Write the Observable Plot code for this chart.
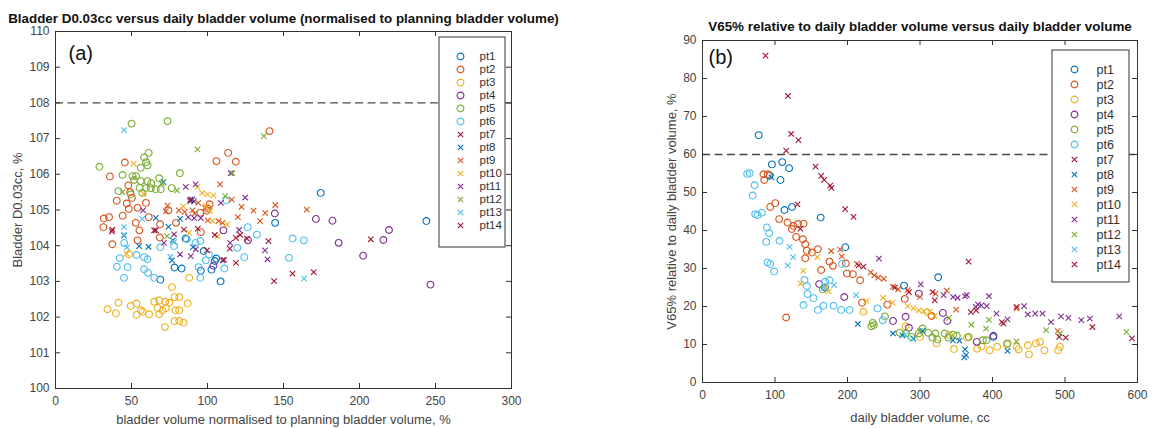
<!DOCTYPE html>
<html><head><meta charset="utf-8">
<script src="https://cdn.jsdelivr.net/npm/d3@7"></script>
<script src="https://cdn.jsdelivr.net/npm/@observablehq/plot@0.6"></script>
<style>
body{margin:0;background:#fff;}
#wrap{position:relative;width:1154px;height:428px;overflow:hidden;}
.abs{position:absolute;}
.abs svg{overflow:visible;}
</style></head><body><div id="wrap"></div>
<script>
const patients = ["pt1","pt2","pt3","pt4","pt5","pt6","pt7","pt8","pt9","pt10","pt11","pt12","pt13","pt14"];
const colors = ["#0072BD","#D95319","#EDB120","#7E2F8E","#77AC30","#4DBEEE","#A2142F","#0072BD","#D95319","#EDB120","#7E2F8E","#77AC30","#4DBEEE","#A2142F"];
const symbols = ["circle","circle","circle","circle","circle","circle","times","times","times","times","times","times","times","times"];

// Panel (a): normalised bladder volume (%) vs bladder D0.03cc (%)
const aPt1 = [[174.5,105.48],[244,104.69],[144.5,104.64],[85.6,104.2],[97.5,103.85],[102.6,103.33],[108.6,103.0],[105.7,103.64],[104.8,103.57],[78.3,103.39],[83,103.36],[69,103.05],[95.6,103.3]];
const aPt2 = [[35.8,105.94],[45.6,106.33],[31.8,104.76],[31.5,104.52],[35.2,104.8],[37.4,104.04],[40.3,105.26],[44.2,104.84],[47.9,105.69],[49.1,105.5],[50.3,105.34],[46.9,105.18],[48.2,105.03],[54,105.06],[52.8,104.64],[54,104.15],[55.2,104.43],[59.5,105.2],[61.3,104.8],[68.8,104.6],[68.6,104.23],[74.3,104.99],[79.3,104.64],[95.3,104.92],[100.2,105.04],[101.4,105.16],[99.5,104.98],[105.9,106.37],[113.6,106.6],[118.6,106.35],[140.8,107.21],[95.6,104.38]];
const aPt3 = [[34.2,102.22],[39.7,102.11],[41.4,102.4],[49.5,102.31],[53.3,102.38],[53.3,102.06],[56.1,102.19],[61.6,102.08],[64.9,102.43],[68.2,102.47],[67.1,102.26],[68.2,102.08],[70.4,102.19],[72.6,102.25],[72.2,102.43],[74.9,102.4],[76.6,102.84],[78.3,102.56],[78.9,102.19],[81.4,102.56],[81.4,102.19],[86.9,102.38],[81.4,101.89],[78.3,101.89],[84.3,101.84],[72,101.72],[88,103.1],[48.4,103.76],[57.5,102.15]];
const aPt4 = [[144.3,104.9],[171.3,104.75],[182.2,104.7],[186.3,104.08],[202.4,103.72],[215.7,104.16],[219.4,104.44],[246.7,102.91],[126.6,104.15],[110.5,104.43],[103.9,103.44]];
const aPt5 = [[28.9,106.21],[50,107.42],[73.7,107.49],[61.3,106.6],[58.3,106.47],[59.6,106.34],[56.1,106.18],[60.5,106.25],[44.1,105.98],[50.7,105.95],[51.7,105.84],[56.1,105.81],[60.5,105.81],[55.3,105.62],[59.4,105.61],[62.7,105.61],[68.2,105.89],[66,105.58],[69.3,105.58],[76.5,105.61],[81.8,106.03],[41.4,105.53],[49.5,105.44],[57.2,105.48],[53,105.95],[63,105.75]];
const aPt6 = [[45.2,104.08],[42.3,103.65],[40.4,103.41],[47.4,103.4],[45.1,103.1],[53.3,103.74],[58.3,103.68],[60.5,103.62],[58.3,103.34],[60.9,103.24],[64.9,103.1],[69,103.96],[78,103.99],[86.4,104.18],[92.1,104.08],[95.3,104.13],[94.1,103.4],[95.3,103.1],[98.9,103.59],[111.1,103.36],[119.6,103.94],[126.4,104.52],[132.5,104.31],[124.2,103.68],[153.6,103.66],[156,104.2],[163.4,104.15],[112.3,105.27],[101,103.75]];
const aPt7 = [[37.4,104.45],[66.1,104.43],[118.7,104.22],[118.7,103.52],[143.8,103.01],[155.9,103.22],[169.9,103.26],[207.4,104.18],[140.1,104.13],[114.7,103.92]];
const aPt8 = [[45.1,104.28],[55,103.99],[61.2,103.97],[74.3,104.53],[77.1,104.15],[88.7,105.29],[76.6,103.59],[71,105.78],[90.4,103.96],[66,104.78],[91,105.25],[82,104.75]];
const aPt9 = [[81.2,104.99],[91.6,104.9],[93.9,105.2],[98.3,105.06],[108.3,105.72],[109.9,104.64],[122.4,105.09],[130.3,104.98],[138,104.92],[144.6,105.14],[134.6,104.69],[165.3,105.01],[116,105.29],[100.2,104.71],[73.7,105.12],[72.6,104.97],[90.1,104.99],[107.2,104.69],[85,104.95],[120,104.8]];
const aPt10 = [[100,105.44],[103.9,105.41],[93.4,105.65],[101.7,104.97],[87.9,104.36],[103.3,104.69],[51.5,106.3],[96.5,105.48],[106.5,104.26],[46.7,103.78],[99,105.1],[58,105.45],[84,105.1],[113,104.6]];
const aPt11 = [[85.7,105.65],[92.2,105.72],[88.6,105.25],[87.3,104.8],[91.2,104.77],[95.6,104.77],[108.8,105.2],[115.3,106.03],[124.8,105.35],[120.8,104.44],[89,103.71],[82,103.76],[92.3,103.9],[139.5,103.62],[71.4,104.08],[78,104.32],[114.9,104.08],[57.6,104.99],[109.9,103.59],[137.8,103.87],[90,105.3]];
const aPt12 = [[93.4,106.7],[137.1,107.07],[116.3,106.03],[111.6,105.39],[73.4,104.27],[69.9,105.75],[44,105.5],[80,105.55]];
const aPt13 = [[45.1,107.24],[45,104.52],[75.6,103.69],[163.5,103.08],[45,104.3],[57,104.75],[78,104.1],[47,103.95]];
const aPt14 = [[99.7,103.87],[93.6,104.48],[104.8,104.3],[89,105.28],[121.5,104.3],[110.8,103.6],[37.1,104.4],[84.5,104.45],[64.9,104.43],[126,104.2]];

// Panel (b): daily bladder volume (cc) vs V65% relative to daily bladder volume (%)
const bPt1 = [[77.5,65.1],[95.7,57.4],[110,58],[119.5,56.4],[107.5,53.3],[113,45.4],[123.5,46.2],[163,43.4],[197,35.6],[278,25.5],[325,27.7],[92.5,54.5],[401,12],[169,25]];
const bPt2 = [[84.1,54.8],[85.1,53.3],[90,54.8],[100.3,47.2],[93.4,46.2],[105.8,43],[117.2,42.1],[125.5,41.2],[131.6,41.7],[139.3,41.8],[123.3,40.4],[129.2,38.3],[138.5,37.7],[141.7,36.4],[144,34.7],[150.9,34.2],[159.2,35.1],[141.7,32.7],[163.7,29.6],[175.2,31.8],[179.8,30.7],[197.8,31.3],[199.2,28.7],[207.4,28.5],[217.5,26.9],[115.4,17.1],[279,22],[220,21],[255,20.5],[316,17.5]];
const bPt3 = [[222,18.6],[280,14.8],[300,12],[322.9,10.3],[346.8,8.8],[365,11.8],[378.9,8.9],[385,9.5],[396,8.5],[406.4,9.4],[420,10],[433.4,9.4],[436,8.7],[448.7,9.8],[450.2,7.4],[459.9,10.3],[465.5,10.7],[471.6,8.5],[490.5,8.5],[493,9.4],[340,12.5],[310,18.5]];
const bPt4 = [[160.9,25.9],[195.6,22.5],[262.8,16.2],[280.1,17.3],[284.7,14.4],[298.5,23.4],[331.6,18.3],[337.7,16.2],[378.4,10.7],[401.3,12.3]];
const bPt5 = [[234.8,15.7],[236.3,15.1],[251.6,17.4],[272,13.1],[280.6,12.9],[288.3,12],[303.5,14.2],[311.2,13.1],[317.3,11.8],[321.4,12.9],[323.9,11.3],[334.1,12.9],[339.2,11.8],[345.8,12.6],[350.9,12.3],[367.2,12],[386.6,11.1],[391.7,11.1],[420.7,10.3],[298.5,12.9],[233,14.8],[166,24.5]];
const bPt6 = [[61.6,54.9],[65.2,55.1],[71.8,51.9],[69.3,49.2],[72.7,44.3],[76,44],[81.9,44.7],[88.8,40.8],[92,39.3],[87.9,37],[106.2,37.3],[89.7,31.6],[93.4,31.2],[98.9,29.2],[140.7,27],[144,25.4],[144.8,23.3],[139.3,20.4],[153.1,22.2],[159.2,19.1],[166.9,20.2],[180.7,20.2],[191.3,19.1],[202.8,19.1],[169.2,26.5],[192.3,31.2],[241.4,19.5],[248.6,16.4],[175.2,26.9]];
const bPt7 = [[86.9,86],[117.8,75.4],[122.3,65.4],[132.4,63.8],[115.4,61],[155.9,56.8],[163.7,54.4],[167.9,53.3],[176.1,51.8],[178,51.2],[131,46.9],[196.8,45.6],[208.3,43.6]];
const bPt8 = [[214.4,15.4],[262.8,12.9],[275.6,12.4],[290.8,11.6],[303.5,13.6],[345.3,11.1],[354.5,11],[362.1,8.7],[363.6,7.2],[361,6.6],[420.7,8.3],[95,54]];
const bPt9 = [[177.5,34.6],[190,35],[213,31.2],[232,29],[237,28.2],[242.4,27.6],[250,27.3],[262.8,25.2],[270,24.5],[283,24.3],[300,22.5],[321.4,23.4],[337,24.2],[350,19.2],[433,19.5],[490,13.5],[192,33.2]];
const bPt10 = [[139,29.4],[135.5,26],[158.4,33],[170.1,25.1],[174,24],[249,22.3],[283.2,20.1],[291,19.5],[298.5,19],[305.2,18.8],[313.7,18.6],[320,17.5],[262,21],[226,21.5]];
const bPt11 = [[243.4,32.6],[301,25.8],[332.6,23],[345.8,22.5],[351.9,22.3],[362.1,22.7],[364.7,23],[376.9,19.9],[384.5,20.3],[392.1,20.1],[395.2,22.7],[405.4,18.1],[420.7,16.6],[443.6,20.1],[448.7,17.9],[458.9,18.1],[469.1,18.1],[480.8,15.9],[494.5,17.4],[504.7,17],[522.5,16.4],[534.3,16.8],[574.8,17.4],[380,20.5]];
const bPt12 = [[370.8,15.2],[391.1,14.2],[395,16.5],[474,13.8],[493,12.9],[584.7,13.3],[300,13.5],[433,10.8],[340,17]];
const bPt13 = [[120.2,35.7],[117.6,30.8],[181.3,25.6],[211.9,23],[125,33],[167,25],[290,11.5],[280,12.5]];
const bPt14 = [[367,31.8],[215.4,30.8],[265.3,25],[284.7,23.8],[317.3,23.8],[320.4,21.6],[492,12],[501,11.8],[537.8,14.6],[592.3,11.6],[433.4,19.9],[412.9,15.9],[377.4,19],[370,18.5],[135,40.5],[222,30.5],[415,15.5]];

const aTicksX = [0,50,100,150,200,250,300];
const aTicksY = [100,101,102,103,104,105,106,107,108,109,110];
const bTicksX = [0,100,200,300,400,500,600];
const bTicksY = [0,10,20,30,40,50,60,70,80,90];
const aThreshold = 108;
const bThreshold = 60;

const FONT = "'Liberation Sans', Arial, Helvetica, sans-serif";

function rows(list) {
  const out = [];
  list.forEach((arr, i) => arr.forEach(([x, y]) => out.push({pt: patients[i], x, y, circle: symbols[i] === "circle"})));
  return out;
}
const dataA = rows([aPt1,aPt2,aPt3,aPt4,aPt5,aPt6,aPt7,aPt8,aPt9,aPt10,aPt11,aPt12,aPt13,aPt14]);
const dataB = rows([bPt1,bPt2,bPt3,bPt4,bPt5,bPt6,bPt7,bPt8,bPt9,bPt10,bPt11,bPt12,bPt13,bPt14]);

function panel(o) {
  const innerW = o.width - o.ml - o.mr;
  const innerH = o.height - o.mt - o.mb;
  return Plot.plot({
    width: o.width, height: o.height,
    marginLeft: o.ml, marginRight: o.mr, marginTop: o.mt, marginBottom: o.mb,
    x: {domain: o.xDomain}, y: {domain: o.yDomain},
    color: {domain: patients, range: colors},
    symbol: {domain: patients, range: symbols},
    style: {fontFamily: FONT, fontSize: "12px", color: "#444", background: "transparent", overflow: "visible"},
    marks: [
      Plot.ruleY([o.threshold], {stroke: "#4a4a4a", strokeWidth: 1.3, strokeDasharray: "8,4.5"}),
      Plot.dot(o.data.filter(d => d.circle), {x: "x", y: "y", stroke: "pt", symbol: "pt", r: 3.4, strokeWidth: 1.1}),
      Plot.dot(o.data.filter(d => !d.circle), {x: "x", y: "y", stroke: "pt", symbol: "pt", r: 2.6, strokeWidth: 1.1}),
      Plot.frame({stroke: "#333"}),
      Plot.tickX(o.xTicks, {x: d => d, insetTop: innerH - 5, stroke: "#333"}),
      Plot.tickX(o.xTicks, {x: d => d, insetBottom: innerH - 5, stroke: "#333"}),
      Plot.tickY(o.yTicks, {y: d => d, insetRight: innerW - 5, stroke: "#333"}),
      Plot.tickY(o.yTicks, {y: d => d, insetLeft: innerW - 5, stroke: "#333"}),
      Plot.axisX({ticks: o.xTicks, tickSize: 0, tickPadding: 8, label: null, fontSize: 12, tickFormat: d => String(d)}),
      Plot.axisY({ticks: o.yTicks, tickSize: 0, tickPadding: 6, label: null, fontSize: 12, tickFormat: d => String(d)}),
      Plot.text([o.title], {frameAnchor: "top", dy: o.titleDy, text: d => d, textAnchor: "middle", lineAnchor: "middle", fontWeight: "bold", fontSize: 13.4, fill: "#111"}),
      Plot.text([o.tag], {frameAnchor: "top-left", dx: o.tagDx, dy: o.tagDy, text: d => d, textAnchor: "start", lineAnchor: "middle", fontSize: 20, fill: "#111"}),
      Plot.text([o.xLabel], {frameAnchor: "bottom", dy: o.xLabelDy, text: d => d, textAnchor: "middle", lineAnchor: "middle", fontSize: 13, fill: "#444"}),
      Plot.text([o.yLabel], {frameAnchor: "left", dx: o.yLabelDx, rotate: -90, text: d => d, textAnchor: "middle", lineAnchor: "middle", fontSize: 13, fill: "#444"})
    ]
  });
}

function legend(o) {
  return Plot.plot({
    width: o.width, height: o.height, margin: 0,
    x: {domain: [0, 1], axis: null},
    y: {type: "point", domain: patients, range: o.rowRange, axis: null},
    color: {domain: patients, range: colors},
    symbol: {domain: patients, range: symbols},
    style: {fontFamily: FONT, background: "transparent", overflow: "visible"},
    marks: [
      Plot.frame({stroke: "#333", fill: "white", inset: 0.5}),
      Plot.dot(patients.filter((p, i) => symbols[i] === "circle"), {y: d => d, frameAnchor: "left", dx: o.markerDx, symbol: d => d, stroke: d => d, r: 3.4, strokeWidth: 1.1}),
      Plot.dot(patients.filter((p, i) => symbols[i] !== "circle"), {y: d => d, frameAnchor: "left", dx: o.markerDx, symbol: d => d, stroke: d => d, r: 2.6, strokeWidth: 1.1}),
      Plot.text(patients, {y: d => d, frameAnchor: "left", dx: o.labelDx, text: d => d, textAnchor: "start", fill: "#333", fontSize: o.fontSize})
    ]
  });
}

function place(node, left, top) {
  const div = document.createElement("div");
  div.className = "abs";
  div.style.left = left + "px";
  div.style.top = top + "px";
  div.appendChild(node);
  document.getElementById("wrap").appendChild(div);
}

place(panel({
  data: dataA, width: 580, height: 428, ml: 55, mr: 69, mt: 31, mb: 40,
  xDomain: [0, 300], yDomain: [100, 110], xTicks: aTicksX, yTicks: aTicksY, threshold: aThreshold,
  title: "Bladder D0.03cc versus daily bladder volume (normalised to planning bladder volume)", titleDy: -13,
  tag: "(a)", tagDx: 13, tagDy: 22,
  xLabel: "bladder volume normalised to planning bladder volume, %", xLabelDy: 31,
  yLabel: "Bladder D0.03cc, %", yLabelDx: -38
}), 0, 0);

place(panel({
  data: dataB, width: 574, height: 428, ml: 122, mr: 17, mt: 40, mb: 46,
  xDomain: [0, 600], yDomain: [0, 90], xTicks: bTicksX, yTicks: bTicksY, threshold: bThreshold,
  title: "V65% relative to daily bladder volume versus daily bladder volume", titleDy: -13.5,
  tag: "(b)", tagDx: 6, tagDy: 17.5,
  xLabel: "daily bladder volume, cc", xLabelDy: 35,
  yLabel: "V65% relative to daily bladder volume, %", yLabelDx: -31
}), 580, 0);

place(legend({width: 67, height: 211, rowRange: [7.3, 202.3], markerDx: 22, labelDx: 41, fontSize: 11.5}), 438, 36);
place(legend({width: 78, height: 233, rowRange: [10.3, 224.8], markerDx: 23, labelDx: 45, fontSize: 12.5}), 1051, 49);
</script></body></html>
